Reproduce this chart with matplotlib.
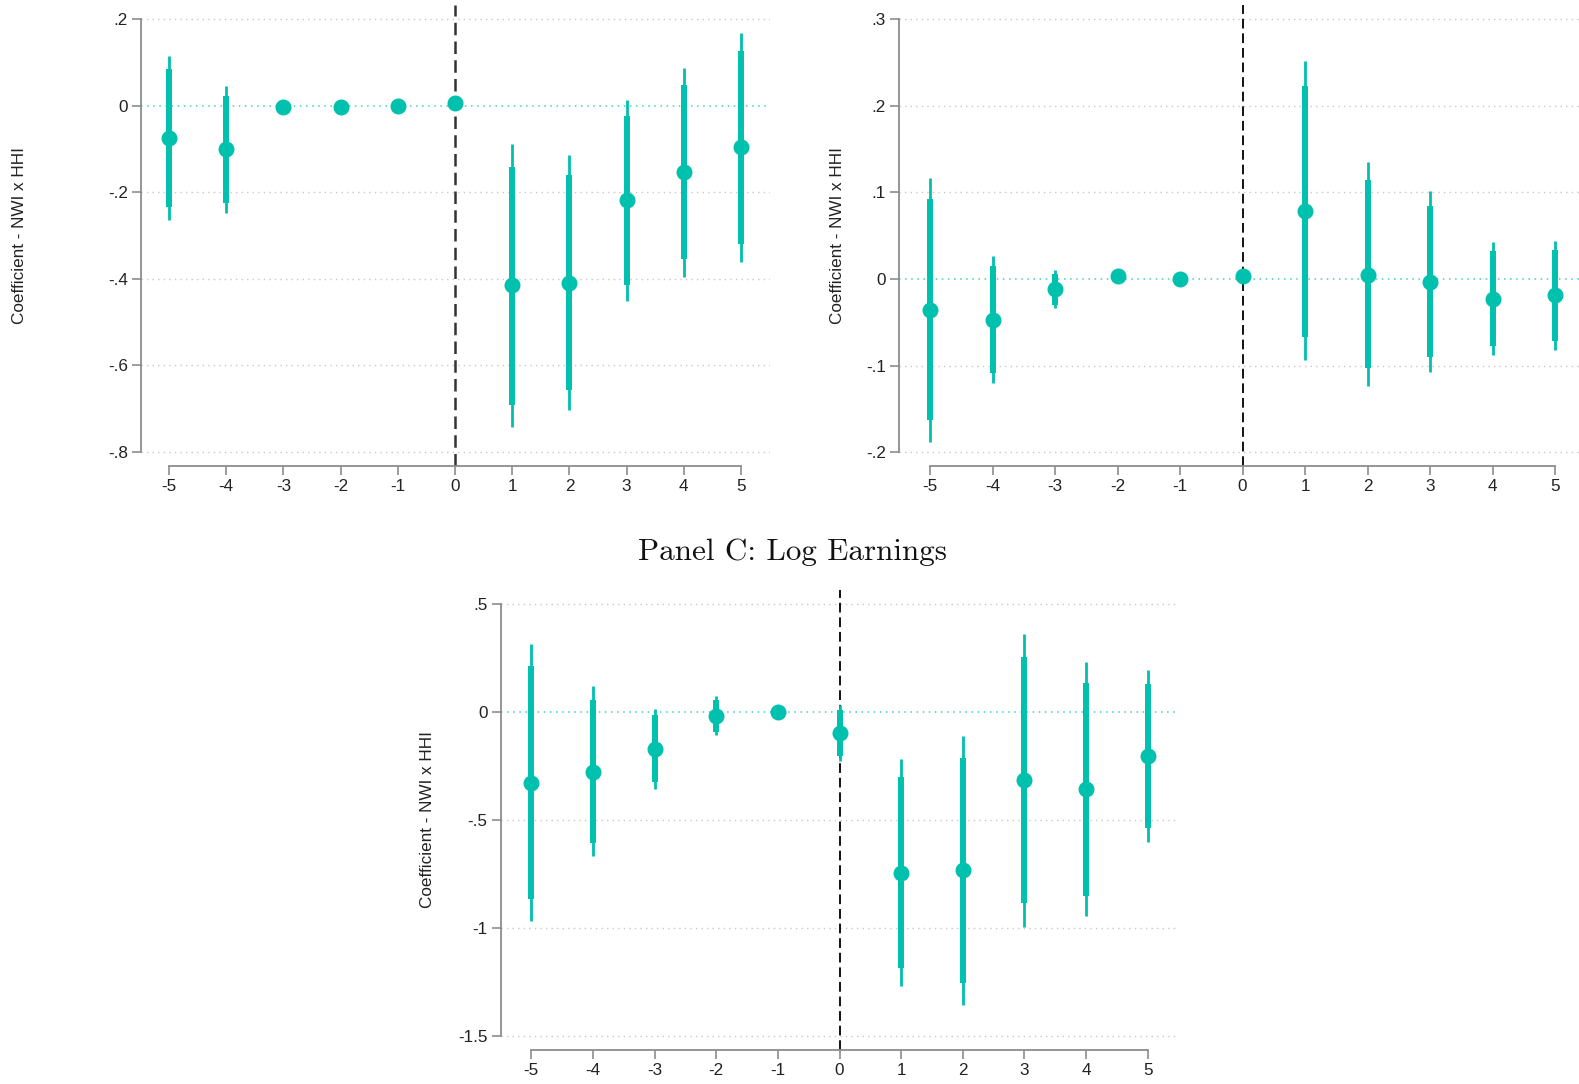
import numpy as np
import matplotlib
matplotlib.use("Agg")
import matplotlib.pyplot as plt

plt.rcParams['font.family'] = ['Liberation Sans', 'DejaVu Sans']

# event time
EVENT_T = [-5, -4, -3, -2, -1, 0, 1, 2, 3, 4, 5]

# panel A
A_COEF = [-0.075, -0.101, -0.003, -0.004, 0.0, 0.005, -0.415, -0.409, -0.219, -0.154, -0.096]
A_LO95 = [-0.265, -0.249, None, None, None, None, -0.743, -0.704, -0.452, -0.395, -0.361]
A_HI95 = [0.115, 0.046, None, None, None, None, -0.088, -0.113, 0.014, 0.087, 0.168]
A_LO90 = [-0.234, -0.225, None, None, None, None, -0.691, -0.657, -0.414, -0.355, -0.319]
A_HI90 = [0.085, 0.021, None, None, None, None, -0.141, -0.161, -0.024, 0.047, 0.125]
A_YTICKS = [-0.8, -0.6, -0.4, -0.2, 0.0, 0.2]
A_YLABELS = ['-.8', '-.6', '-.4', '-.2', '0', '.2']

# panel B
B_COEF = [-0.036, -0.047, -0.012, 0.003, 0.0, 0.0035, 0.079, 0.005, -0.003, -0.023, -0.019]
B_LO95 = [-0.188, -0.120, -0.034, None, None, None, -0.094, -0.124, -0.107, -0.088, -0.082]
B_HI95 = [0.116, 0.027, 0.010, None, None, None, 0.251, 0.135, 0.101, 0.043, 0.044]
B_LO90 = [-0.163, -0.108, -0.030, None, None, None, -0.067, -0.103, -0.090, -0.077, -0.071]
B_HI90 = [0.092, 0.015, 0.006, None, None, None, 0.223, 0.114, 0.084, 0.032, 0.034]
B_YTICKS = [-0.2, -0.1, 0.0, 0.1, 0.2, 0.3]
B_YLABELS = ['-.2', '-.1', '0', '.1', '.2', '.3']

# panel C: log earnings
C_COEF = [-0.327, -0.276, -0.170, -0.017, 0.0, -0.097, -0.745, -0.733, -0.317, -0.357, -0.202]
C_LO95 = [-0.969, -0.668, -0.355, -0.108, None, -0.225, -1.270, -1.355, -0.997, -0.946, -0.604]
C_HI95 = [0.316, 0.119, 0.015, 0.072, None, 0.031, -0.218, -0.113, 0.362, 0.231, 0.196]
C_LO90 = [-0.866, -0.606, -0.324, -0.093, None, -0.205, -1.185, -1.255, -0.884, -0.851, -0.537]
C_HI90 = [0.211, 0.054, -0.016, 0.055, None, 0.011, -0.303, -0.213, 0.253, 0.134, 0.131]
C_YTICKS = [-1.5, -1.0, -0.5, 0.0, 0.5]
C_YLABELS = ['-1.5', '-1', '-.5', '0', '.5']

C_TITLE = "Panel C: Log Earnings"
YLABEL = "Coefficient - NWI x HHI"

TEAL = '#00c0ae'
AXIS_GRAY = '#8c8c8c'
FONT_SIZE = 12.3

W, H = 1579, 1084
fig = plt.figure(figsize=(W / 100, H / 100), dpi=100)


def add_panel(px_left, px_right, px_top, px_bottom):
    return fig.add_axes([px_left / W, (H - px_bottom) / H,
                         (px_right - px_left) / W, (px_bottom - px_top) / H])


def draw(ax, coef, lo95, hi95, lo90, hi90, yticks, ylabels, xlim, ylim,
         label_px, vline_color, vline_lw):
    ax.set_xlim(*xlim)
    ax.set_ylim(*ylim)
    for y in yticks:
        if y == 0:
            ax.axhline(y, color=TEAL, lw=1.1, ls=(0, (1, 3)), alpha=0.75, zorder=1)
        else:
            ax.axhline(y, color='#c8c8c8', lw=1.0, ls=(0, (1, 3)), zorder=1)
    ax.axvline(0, color=vline_color, lw=vline_lw, ls=(0, (5, 2.5)), zorder=2)
    for t, c, l95, h95, l90, h90 in zip(EVENT_T, coef, lo95, hi95, lo90, hi90):
        if l95 is not None:
            ax.plot([t, t], [l95, h95], color=TEAL, lw=2.0, solid_capstyle='butt', zorder=3)
            ax.plot([t, t], [l90, h90], color=TEAL, lw=4.3, solid_capstyle='butt', zorder=3)
        ax.plot(t, c, 'o', color=TEAL, ms=10.5, mec=TEAL, zorder=4)

    for s in ['top', 'right']:
        ax.spines[s].set_visible(False)
    ax.spines['left'].set_bounds(yticks[0], yticks[-1])
    ax.spines['bottom'].set_bounds(EVENT_T[0], EVENT_T[-1])
    for s in ['left', 'bottom']:
        ax.spines[s].set_color(AXIS_GRAY)
        ax.spines[s].set_linewidth(1.3)
    ax.set_yticks(yticks)
    ax.set_yticklabels(ylabels)
    ax.set_xticks(EVENT_T)
    ax.set_xticklabels([str(t) for t in EVENT_T])
    ax.tick_params(axis='both', colors=AXIS_GRAY, labelcolor='#222222',
                   length=6.5, width=1.2, labelsize=FONT_SIZE, pad=3)
    ax.set_ylabel(YLABEL, fontsize=FONT_SIZE, color='#222222')
    ax_w = ax.get_position().width * W
    ax.yaxis.set_label_coords(-label_px / ax_w, 0.5)
    ax.patch.set_visible(False)


# panel A
axA = add_panel(141, 770, 5, 466)
draw(axA, A_COEF, A_LO95, A_HI95, A_LO90, A_HI90, A_YTICKS, A_YLABELS,
     (-5.49, 5.507), (-0.8323, 0.2323), 114, '#333333', 1.8)

# panel B
axB = add_panel(899, 1579, 5, 466)
draw(axB, B_COEF, B_LO95, B_HI95, B_LO90, B_HI90, B_YTICKS, B_YLABELS,
     (-5.496, 5.384), (-0.2158, 0.3162), 54, '#111111', 1.4)

# panel C
axC = add_panel(500.7, 1178.3, 590, 1050)
draw(axC, C_COEF, C_LO95, C_HI95, C_LO90, C_HI90, C_YTICKS, C_YLABELS,
     (-5.496, 5.496), (-1.5648, 0.5648), 66, '#111111', 1.4)

fig.text(793 / W, 1 - 552 / H, C_TITLE, family='cmr10', fontsize=22.4,
         ha='center', va='center', color='#111111')

fig.savefig('out.png', dpi=100)
